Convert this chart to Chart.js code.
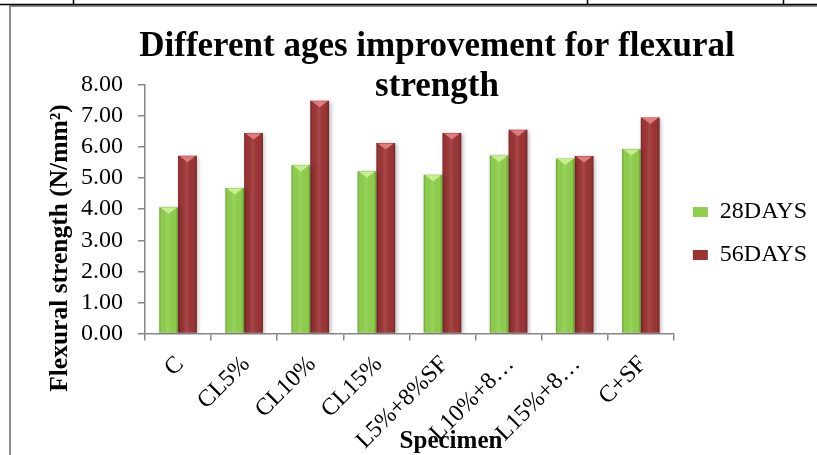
<!DOCTYPE html>
<html>
<head>
<meta charset="utf-8">
<script src="https://cdn.jsdelivr.net/npm/chart.js@4.4.1/dist/chart.umd.min.js"></script>
<style>
  html, body { margin: 0; padding: 0; background: #fff; overflow: hidden; width: 817px; height: 455px; }
  #wrap { position: relative; width: 874px; height: 455px; }
  canvas { display: block; }
</style>
</head>
<body>
<div id="wrap"><canvas id="chart" width="874" height="455"></canvas></div>
<script>
// Specimen groups along the x axis
const categories = ['C', 'CL5%', 'CL10%', 'CL15%', 'L5%+8%SF', 'L10%+8…', 'L15%+8…', 'C+SF'];
// Flexural strength (N/mm²) at each curing age
const days28 = [4.06, 4.68, 5.42, 5.22, 5.11, 5.73, 5.63, 5.94];
const days56 = [5.72, 6.45, 7.49, 6.13, 6.45, 6.56, 5.71, 6.95];
const seriesNames = ['28DAYS', '56DAYS'];
const yTickLabels = ['0.00', '1.00', '2.00', '3.00', '4.00', '5.00', '6.00', '7.00', '8.00'];
const titleLines = ['Different ages improvement for flexural', 'strength'];
const xAxisTitle = 'Specimen';
const yAxisTitle = 'Flexural strength (N/mm²)';

const SERIF = '"Liberation Serif", "Times New Roman", serif';
const AXIS_GREY = '#868686';
const bevelTops = ['#c9ee8f', '#e27b7b'];

// white page with the surrounding table rules and the chart frame
const pageFrame = {
  id: 'pageFrame',
  beforeDraw(chart) {
    const ctx = chart.ctx;
    ctx.save();
    ctx.fillStyle = '#fff';
    ctx.fillRect(0, 0, chart.width, chart.height);
    ctx.strokeStyle = '#8c8c8c';
    ctx.lineWidth = 2;
    ctx.beginPath();
    ctx.moveTo(10, 6);
    ctx.lineTo(chart.width, 6);
    ctx.moveTo(10, 5);
    ctx.lineTo(10, chart.height);
    ctx.stroke();
    ctx.strokeStyle = '#000';
    ctx.lineWidth = 1.5;
    ctx.beginPath();
    ctx.moveTo(0, 4.5);
    ctx.lineTo(chart.width, 4.5);
    [73, 587, 783].forEach(x => { ctx.moveTo(x + 0.5, 0); ctx.lineTo(x + 0.5, 4.5); });
    ctx.stroke();
    ctx.restore();
  }
};

// soft shadow under the columns plus a bevelled look on each one
const columnShading = {
  id: 'columnShading',
  beforeDatasetsDraw(chart) {
    const ctx = chart.ctx;
    ctx.save();
    ctx.shadowColor = 'rgba(0,0,0,0.28)';
    ctx.shadowBlur = 4;
    ctx.shadowOffsetX = 1.5;
    ctx.shadowOffsetY = 1;
  },
  afterDatasetsDraw(chart) {
    const ctx = chart.ctx;
    ctx.restore();
    ctx.save();
    chart.data.datasets.forEach((ds, di) => {
      const meta = chart.getDatasetMeta(di);
      meta.data.forEach(el => {
        const {x, y, base, width} = el.getProps(['x', 'y', 'base', 'width'], true);
        const l = x - width / 2, r = x + width / 2;
        const g = ctx.createLinearGradient(l, 0, r, 0);
        g.addColorStop(0, 'rgba(0,0,0,0.22)');
        g.addColorStop(0.12, 'rgba(0,0,0,0.0)');
        g.addColorStop(0.45, 'rgba(255,255,255,0.10)');
        g.addColorStop(0.85, 'rgba(0,0,0,0.0)');
        g.addColorStop(1, 'rgba(0,0,0,0.28)');
        ctx.fillStyle = g;
        ctx.fillRect(l, y, width, base - y);
        ctx.fillStyle = bevelTops[di];
        ctx.beginPath();
        ctx.moveTo(l + 1.5, y + 0.5);
        ctx.lineTo(r - 1.5, y + 0.5);
        ctx.lineTo(x, y + 6.5);
        ctx.closePath();
        ctx.fill();
      });
    });
    ctx.restore();
  }
};

// axis titles
const axisTitles = {
  id: 'axisTitles',
  afterDraw(chart) {
    const ctx = chart.ctx;
    ctx.save();
    ctx.fillStyle = '#000';
    ctx.textAlign = 'center';
    ctx.font = 'bold 25px ' + SERIF;
    ctx.textBaseline = 'alphabetic';
    ctx.fillText(xAxisTitle, 451, 448);
    ctx.font = 'bold 25.5px ' + SERIF;
    ctx.translate(60, 248);
    ctx.rotate(-Math.PI / 2);
    ctx.textBaseline = 'middle';
    ctx.fillText(yAxisTitle, 0, 0);
    ctx.restore();
  }
};

new Chart(document.getElementById('chart'), {
  type: 'bar',
  data: {
    labels: categories,
    datasets: [
      { label: seriesNames[0], data: days28, backgroundColor: '#8ecf4c', borderWidth: 0 },
      { label: seriesNames[1], data: days56, backgroundColor: '#9c3435', borderWidth: 0 }
    ]
  },
  options: {
    responsive: false,
    animation: false,
    devicePixelRatio: 1,
    layout: { padding: { left: 57, right: 57, top: 0, bottom: 0 } },
    datasets: { bar: { categoryPercentage: 0.5675, barPercentage: 1 } },
    plugins: {
      tooltip: { enabled: false },
      title: {
        display: true,
        text: titleLines,
        color: '#000',
        font: { family: SERIF, size: 35, weight: 'bold', lineHeight: 1.17 },
        padding: { top: 26, bottom: -23 }
      },
      legend: {
        position: 'right',
        fullSize: false,
        align: 'center',
        title: { display: true, text: ' ', font: { size: 10, lineHeight: 1.2 }, padding: { top: 18, bottom: 18.5 } },
        labels: {
          color: '#000',
          font: { family: SERIF, size: 24 },
          boxWidth: 15,
          boxHeight: 10,
          padding: 19
        }
      }
    },
    scales: {
      x: {
        afterFit: s => { s.height = 121.5; },
        grid: { display: true, drawOnChartArea: false, drawTicks: true, tickLength: 7, color: AXIS_GREY, lineWidth: 1.5, offset: true },
        border: { color: AXIS_GREY, width: 1.5 },
        ticks: { color: '#000', font: { family: SERIF, size: 24 }, minRotation: 45, maxRotation: 45, padding: 10, labelOffset: 2, autoSkip: false }
      },
      y: {
        min: 0,
        max: 8,
        afterFit: s => { s.width = 88; },
        grid: { display: true, drawOnChartArea: false, drawTicks: true, tickLength: 7, color: AXIS_GREY, lineWidth: 1.5 },
        border: { color: AXIS_GREY, width: 1.5 },
        ticks: { stepSize: 1, autoSkip: false, color: '#000', font: { family: SERIF, size: 24 }, padding: 15,
                 callback: (v, i) => yTickLabels[i] }
      }
    }
  },
  plugins: [pageFrame, columnShading, axisTitles]
});
</script>
</body>
</html>
